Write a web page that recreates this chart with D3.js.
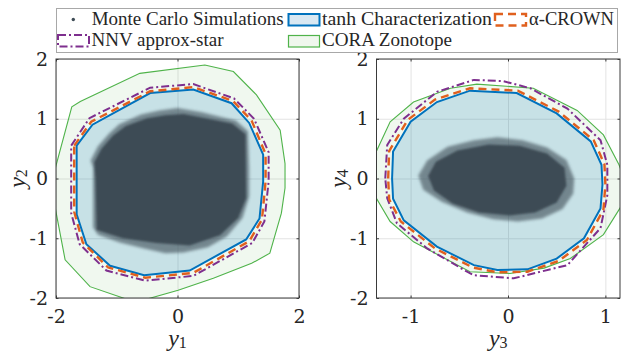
<!DOCTYPE html>
<html>
<head>
<meta charset="utf-8">
<script src="https://cdn.jsdelivr.net/npm/d3@7/dist/d3.min.js"></script>
<style>
  body { margin: 0; background: #fff; }
  svg { display: block; }
  .lab { font-family: 'Liberation Serif'; }
  .tck text { font-family: 'DejaVu Serif'; }
</style>
</head>
<body>
<div id="chart"></div>
<script>
// ---- data ----
const xTicksLeft = [-2, 0, 2];
const xTicksRight = [-1, 0, 1];
const yTicks = [-2, -1, 0, 1, 2];

// left panel (y1, y2)
const mcFringe12 = [[-1.43,0.30],[-1.31,0.54],[-1.13,0.75],[-0.96,0.91],[-0.60,1.07],[-0.30,1.14],[0.0,1.18],[0.40,1.11],[0.75,1.02],[0.96,0.97],[1.16,0.79],[1.18,0.20],[1.18,-0.30],[1.07,-0.66],[0.81,-0.97],[0.50,-1.15],[0.10,-1.24],[-0.20,-1.25],[-0.55,-1.17],[-0.95,-1.07],[-1.31,-0.94],[-1.39,-0.82],[-1.39,0.18]];
const mcCore12 = [[-1.37,0.27],[-1.25,0.50],[-1.06,0.72],[-0.85,0.88],[-0.50,1.01],[-0.20,1.06],[0.10,1.08],[0.50,1.00],[0.90,0.92],[1.12,0.74],[1.13,-0.33],[1.00,-0.66],[0.70,-0.95],[0.20,-1.12],[-0.35,-1.08],[-0.90,-1.00],[-1.33,-0.86],[-1.35,0.0]];
const tanh12 = [[-1.66,0.55],[-1.40,0.90],[-0.45,1.43],[0.26,1.49],[0.89,1.26],[1.18,0.93],[1.41,0.40],[1.41,-0.05],[1.35,-0.67],[1.13,-1.02],[0.20,-1.54],[-0.55,-1.62],[-1.11,-1.46],[-1.50,-1.10],[-1.66,-0.60]];
const crown12 = [[-1.70,0.55],[-1.42,0.95],[-0.45,1.46],[0.26,1.53],[0.91,1.30],[1.22,0.97],[1.45,0.41],[1.45,-0.05],[1.39,-0.69],[1.18,-1.05],[0.26,-1.58],[-0.53,-1.66],[-1.14,-1.49],[-1.56,-1.07],[-1.70,-0.56]];
const nnv12 = [[-1.75,0.55],[-1.45,1.01],[-0.45,1.52],[0.26,1.58],[0.93,1.34],[1.26,1.00],[1.50,0.44],[1.50,-0.05],[1.43,-0.72],[1.23,-1.08],[0.26,-1.63],[-0.53,-1.71],[-1.17,-1.54],[-1.61,-1.10],[-1.75,-0.58]];
const cora12 = [[-2.03,0.10],[-1.74,1.20],[-1.60,1.29],[-0.62,1.76],[0.45,1.90],[0.92,1.79],[1.30,1.40],[1.69,0.81],[1.77,0.25],[1.77,-0.16],[1.71,-0.58],[1.52,-1.25],[1.22,-1.42],[0.59,-1.67],[0.01,-1.87],[-0.51,-2.02],[-0.78,-2.04],[-1.44,-1.81],[-1.85,-1.36],[-2.03,-0.40]];

// right panel (y3, y4)
const mcFringe34 = [[-0.92,0.05],[-0.83,0.30],[-0.62,0.53],[-0.35,0.64],[-0.11,0.69],[0.15,0.64],[0.40,0.52],[0.60,0.31],[0.68,0.0],[0.67,-0.25],[0.56,-0.51],[0.35,-0.67],[0.10,-0.72],[-0.15,-0.68],[-0.42,-0.57],[-0.68,-0.39],[-0.87,-0.19]];
const mcCore34 = [[-0.82,0.04],[-0.74,0.28],[-0.52,0.47],[-0.20,0.57],[0.12,0.55],[0.40,0.42],[0.58,0.18],[0.60,-0.12],[0.50,-0.40],[0.28,-0.57],[0.02,-0.62],[-0.30,-0.57],[-0.57,-0.42],[-0.76,-0.20]];
const tanh34 = [[-1.19,0.0],[-1.18,0.45],[-1.00,0.95],[-0.73,1.28],[-0.39,1.47],[0.09,1.43],[0.50,1.09],[0.85,0.62],[0.96,0.23],[0.97,-0.10],[0.95,-0.50],[0.78,-1.00],[0.50,-1.34],[0.20,-1.52],[-0.11,-1.53],[-0.35,-1.45],[-0.73,-1.14],[-1.07,-0.70],[-1.18,-0.34]];
const crown34 = [[-1.23,0.0],[-1.22,0.46],[-1.03,0.98],[-0.75,1.32],[-0.39,1.51],[0.10,1.47],[0.52,1.12],[0.88,0.64],[0.99,0.24],[1.00,-0.10],[0.98,-0.52],[0.81,-1.03],[0.52,-1.38],[0.20,-1.56],[-0.11,-1.57],[-0.36,-1.49],[-0.75,-1.17],[-1.10,-0.72],[-1.22,-0.35]];
const nnv34 = [[-1.26,0.0],[-1.24,0.56],[-1.07,1.00],[-0.73,1.45],[-0.35,1.65],[-0.05,1.63],[0.23,1.51],[0.61,1.17],[0.95,0.64],[1.02,0.23],[1.02,-0.28],[0.95,-0.83],[0.61,-1.45],[0.06,-1.67],[-0.35,-1.62],[-0.42,-1.56],[-0.83,-1.17],[-1.14,-0.75],[-1.24,-0.33]];
const cora34 = [[-1.37,0.39],[-1.21,0.95],[-0.97,1.28],[-0.59,1.51],[-0.32,1.58],[0.26,1.51],[0.71,1.14],[0.98,0.73],[1.14,0.23],[1.18,0.05],[1.16,-0.47],[0.98,-0.94],[0.64,-1.34],[0.37,-1.50],[0.02,-1.59],[-0.39,-1.56],[-0.97,-1.06],[-1.21,-0.72],[-1.37,-0.28]];

const legendLabels = ['Monte Carlo Simulations', 'tanh Characterization', '\u03b1-CROWN', 'NNV approx-star', 'CORA Zonotope'];

// ---- drawing ----
const W = 628, H = 353;
const colors = {
  mc: '#3e4b55', tanh: '#0072bd', crown: '#e0601e', nnv: '#7e2f8e', cora: '#4fb34a',
  tanhFill: 'rgba(0,114,189,0.17)', coraFill: 'rgba(110,190,100,0.10)', grid: '#e3e3e3', axis: '#3a3a3a'
};

const svg = d3.select('#chart').append('svg').attr('width', W).attr('height', H);
const defs = svg.append('defs');
const blur = (id, s) => defs.append('filter').attr('id', id)
  .attr('x', '-20%').attr('y', '-20%').attr('width', '140%').attr('height', '140%')
  .append('feGaussianBlur').attr('stdDeviation', s);
blur('softCore', 0.8);
blur('softEdge', 1.5);

function panel(id, x0, x1, xDomain, xTicks, sets, xName, yName) {
  const top = 59, bottom = 298;
  const x = d3.scaleLinear().domain(xDomain).range([x0, x1]);
  const y = d3.scaleLinear().domain([-2, 2]).range([bottom, top]);
  const g = svg.append('g');

  defs.append('clipPath').attr('id', 'clip' + id)
    .append('rect').attr('x', x0).attr('y', top).attr('width', x1 - x0).attr('height', bottom - top);

  // grid
  g.append('g').attr('transform', `translate(0,${bottom})`)
    .call(d3.axisBottom(x).tickValues(xTicks).tickSize(-(bottom - top)).tickFormat(''))
    .call(a => a.select('.domain').remove())
    .call(a => a.selectAll('.tick line').attr('stroke', colors.grid));
  g.append('g').attr('transform', `translate(${x0},0)`)
    .call(d3.axisLeft(y).tickValues(yTicks).tickSize(-(x1 - x0)).tickFormat(''))
    .call(a => a.select('.domain').remove())
    .call(a => a.selectAll('.tick line').attr('stroke', colors.grid));

  const line = d3.line().x(d => x(d[0])).y(d => y(d[1])).curve(d3.curveLinearClosed);
  const body = g.append('g').attr('clip-path', `url(#clip${id})`);

  body.append('path').attr('d', line(sets.cora)).attr('fill', colors.coraFill).attr('stroke', 'none');
  body.append('path').attr('d', line(sets.tanh)).attr('fill', colors.tanhFill).attr('stroke', 'none');

  body.append('path').attr('d', line(sets.fringe)).attr('fill', colors.mc).attr('opacity', 0.6).attr('filter', 'url(#softEdge)');
  body.append('path').attr('d', line(sets.core)).attr('fill', colors.mc).attr('filter', 'url(#softCore)');

  body.append('path').attr('d', line(sets.cora)).attr('fill', 'none').attr('stroke', colors.cora).attr('stroke-width', 1.1);
  body.append('path').attr('d', line(sets.nnv)).attr('fill', 'none').attr('stroke', colors.nnv)
    .attr('stroke-width', 2).attr('stroke-dasharray', '8,3,2,3');
  body.append('path').attr('d', line(sets.tanh)).attr('fill', 'none').attr('stroke', colors.tanh).attr('stroke-width', 2);
  body.append('path').attr('d', line(sets.crown)).attr('fill', 'none').attr('stroke', colors.crown)
    .attr('stroke-width', 2.4).attr('stroke-dasharray', '8,5');

  // box and ticks
  const tk = 2.5;
  const styleAxis = a => {
    a.attr('class', 'tck').attr('font-family', null).attr('font-size', 19);
    a.select('.domain').remove();
    a.selectAll('.tick line').attr('stroke', colors.axis);
    a.selectAll('.tick text').attr('fill', '#262626');
  };
  g.append('g').attr('transform', `translate(0,${bottom})`)
    .call(d3.axisBottom(x).tickValues(xTicks).tickSize(-tk).tickPadding(12).tickFormat(d => String(d)))
    .call(styleAxis);
  g.append('g').attr('transform', `translate(0,${top})`)
    .call(d3.axisTop(x).tickValues(xTicks).tickSize(-tk).tickFormat(''))
    .call(styleAxis);
  g.append('g').attr('transform', `translate(${x0},0)`)
    .call(d3.axisLeft(y).tickValues(yTicks).tickSize(-tk).tickPadding(8).tickFormat(d => String(d)))
    .call(styleAxis);
  g.append('g').attr('transform', `translate(${x1},0)`)
    .call(d3.axisRight(y).tickValues(yTicks).tickSize(-tk).tickFormat(''))
    .call(styleAxis);
  g.append('rect').attr('x', x0).attr('y', top).attr('width', x1 - x0).attr('height', bottom - top)
    .attr('fill', 'none').attr('stroke', colors.axis).attr('stroke-width', 1);

  // axis labels
  const xl = g.append('text').attr('class', 'lab').attr('x', (x0 + x1) / 2).attr('y', 346).attr('text-anchor', 'middle')
    .attr('font-size', 24).attr('fill', '#262626');
  xl.append('tspan').attr('font-style', 'italic').text('y');
  xl.append('tspan').attr('dy', 2).attr('font-size', 16).text(xName);
  const yl = g.append('text').attr('class', 'lab').attr('transform', `translate(${x0 - 31},${(top + bottom) / 2}) rotate(-90)`)
    .attr('text-anchor', 'middle').attr('font-size', 24).attr('fill', '#262626');
  yl.append('tspan').attr('font-style', 'italic').text('y');
  yl.append('tspan').attr('dy', 2).attr('font-size', 16).text(yName);
}

panel('L', 56, 299, [-2, 2], xTicksLeft,
  { fringe: mcFringe12, core: mcCore12, tanh: tanh12, crown: crown12, nnv: nnv12, cora: cora12 }, '1', '2');
panel('R', 376.5, 620, [-1.35, 1.15], xTicksRight,
  { fringe: mcFringe34, core: mcCore34, tanh: tanh34, crown: crown34, nnv: nnv34, cora: cora34 }, '3', '4');

// legend
const lg = svg.append('g');
lg.append('rect').attr('x', 56.5).attr('y', 8.5).attr('width', 561).attr('height', 44)
  .attr('fill', '#fff').attr('stroke', '#a8a8a8').attr('stroke-width', 1);

const items = [
  { label: legendLabels[0], tx: 91.7, tw: 192, by: 25, kind: 'dot', px: 73.3, py: 19.5 },
  { label: legendLabels[1], tx: 322, tw: 170, by: 25, kind: 'tanh', px: 288.5, py: 14 },
  { label: legendLabels[2], tx: 529, tw: 85, by: 25, kind: 'crown', px: 495, py: 14 },
  { label: legendLabels[3], tx: 91.5, tw: 132, by: 45.5, kind: 'nnv', px: 58, py: 35 },
  { label: legendLabels[4], tx: 322, tw: 130, by: 45.5, kind: 'cora', px: 288.5, py: 35.5 }
];
items.forEach(it => {
  if (it.kind === 'dot') {
    lg.append('circle').attr('cx', it.px).attr('cy', it.py).attr('r', 1.7).attr('fill', colors.mc);
  } else {
    const r = lg.append('rect').attr('x', it.px).attr('y', it.py).attr('width', 31).attr('height', 11.5);
    if (it.kind === 'tanh') r.attr('fill', '#d9e8f2').attr('stroke', colors.tanh).attr('stroke-width', 2);
    if (it.kind === 'cora') r.attr('fill', '#f0f7ee').attr('stroke', colors.cora).attr('stroke-width', 1.2);
    if (it.kind === 'crown') r.attr('fill', 'none').attr('stroke', colors.crown).attr('stroke-width', 2.4).attr('stroke-dasharray', '8,5');
    if (it.kind === 'nnv') r.attr('fill', 'none').attr('stroke', colors.nnv).attr('stroke-width', 2).attr('stroke-dasharray', '8,3,2,3');
  }
  lg.append('text').attr('class', 'lab').attr('x', it.tx).attr('y', it.by).attr('font-size', 18).attr('fill', '#262626')
    .attr('textLength', it.tw).attr('lengthAdjust', 'spacingAndGlyphs').text(it.label);
});
</script>
</body>
</html>
